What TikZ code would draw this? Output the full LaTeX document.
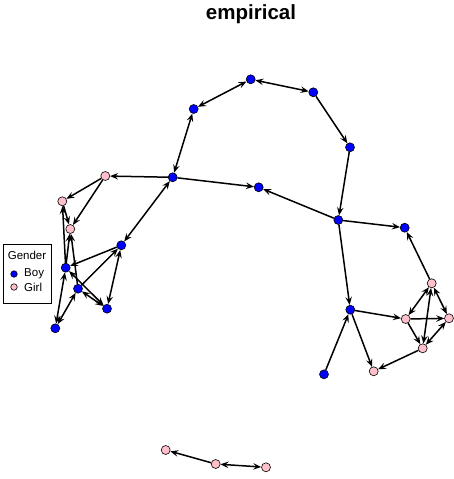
\documentclass[tikz,border=0pt]{standalone}
\usepackage{fontspec}
\setmainfont{Liberation Sans}
\usetikzlibrary{arrows.meta}
\begin{document}
\begin{tikzpicture}[x=1pt,y=-1pt,
  vb/.style={circle,draw=black,line width=0.6pt,fill={rgb,255:red,0;green,0;blue,255},minimum size=9pt,inner sep=0pt},
  vg/.style={circle,draw=black,line width=0.6pt,fill={rgb,255:red,255;green,192;blue,203},minimum size=9pt,inner sep=0pt},
  ed/.style={line width=1.5pt,-{Stealth[length=8pt,width=6.5pt,inset=3pt]}},
  eb/.style={line width=1.5pt,{Stealth[length=8pt,width=6.5pt,inset=3pt]}-{Stealth[length=8pt,width=6.5pt,inset=3pt]}}]
\useasboundingbox (0,0) rectangle (453,479);
\node[font=\bfseries\fontsize{20.5}{24}\selectfont] (title) at (251,14) {empirical};
% legend
\node[draw=black,line width=0.6pt,minimum width=48pt,minimum height=59pt,inner sep=0pt] (legend) at (27,273.5) {};
\node[font=\fontsize{11.5}{13}\selectfont] (lgt) at (27,255) {Gender};
\node[vb,minimum size=6.5pt] (lb) at (14,274) {};
\node[vg,minimum size=6.5pt] (lg) at (14,287) {};
\node[font=\fontsize{11.5}{13}\selectfont,anchor=west,inner sep=0pt] (lbt) at (24,274) {Boy};
\node[font=\fontsize{11.5}{13}\selectfont,anchor=west,inner sep=0pt] (lgtt) at (24,287) {Girl};
% nodes
\node[vb] (T1) at (250.7,79.3) {};
\node[vb] (T2) at (313.3,92.3) {};
\node[vb] (T3) at (193.7,109) {};
\node[vb] (T4) at (350,147.3) {};
\node[vb] (C1) at (172.7,177.3) {};
\node[vb] (C2) at (258.7,187.3) {};
\node[vg] (G1) at (105.3,176) {};
\node[vg] (G2) at (62.3,201.3) {};
\node[vg] (G3) at (70.3,229) {};
\node[vb] (B1) at (121.3,245.3) {};
\node[vb] (B2) at (65.7,267.7) {};
\node[vb] (B3) at (78,288.7) {};
\node[vb] (B4) at (107,308.7) {};
\node[vb] (B5) at (55.3,328.3) {};
\node[vb] (R1) at (338.3,220) {};
\node[vb] (R2) at (404.7,227.7) {};
\node[vb] (R3) at (350.3,309.7) {};
\node[vb] (R4) at (324,374.3) {};
\node[vg] (P1) at (431.7,283.3) {};
\node[vg] (P2) at (405.7,319) {};
\node[vg] (P3) at (449,318.3) {};
\node[vg] (P4) at (422.7,348.3) {};
\node[vg] (P5) at (373.7,371.3) {};
\node[vg] (Q1) at (165.7,450) {};
\node[vg] (Q2) at (215.7,464) {};
\node[vg] (Q3) at (266,467.3) {};
% edges
\draw[eb] (T1) -- (T2);
\draw[eb] (T1) -- (T3);
\draw[ed] (T2) -- (T4);
\draw[eb] (T3) -- (C1);
\draw[ed] (C1) -- (G1);
\draw[ed] (C1) -- (C2);
\draw[ed] (R1) -- (C2);
\draw[ed] (T4) -- (R1);
\draw[eb] (C1) -- (B1);
\draw[ed] (G1) -- (G2);
\draw[ed] (G1) -- (G3);
\draw[ed] (G2) -- (G3);
\draw[ed] (B2) -- (G2);
\draw[ed] (B2) -- (G3);
\draw[ed] (B3) -- (G3);
\draw[ed] (B1) -- (B2);
\draw[eb] (B1) -- (B4);
\draw[ed] (B3) -- (B1);
\draw[eb] (B2) -- (B4);
\draw[eb] (B3) -- (B4);
\draw[eb] (B5) -- (B2);
\draw[eb] (B5) -- (B3);
\draw[ed] (R1) -- (R2);
\draw[ed] (R1) -- (R3);
\draw[ed] (R4) -- (R3);
\draw[ed] (R3) -- (P2);
\draw[ed] (R3) -- (P5);
\draw[ed] (P1) -- (R2);
\draw[eb] (P1) -- (P2);
\draw[eb] (P1) -- (P3);
\draw[eb] (P1) -- (P4);
\draw[ed] (P2) -- (P3);
\draw[ed] (P2) -- (P4);
\draw[eb] (P3) -- (P4);
\draw[ed] (P4) -- (P5);
\draw[ed] (Q2) -- (Q1);
\draw[eb] (Q2) -- (Q3);
\end{tikzpicture}
\end{document}
